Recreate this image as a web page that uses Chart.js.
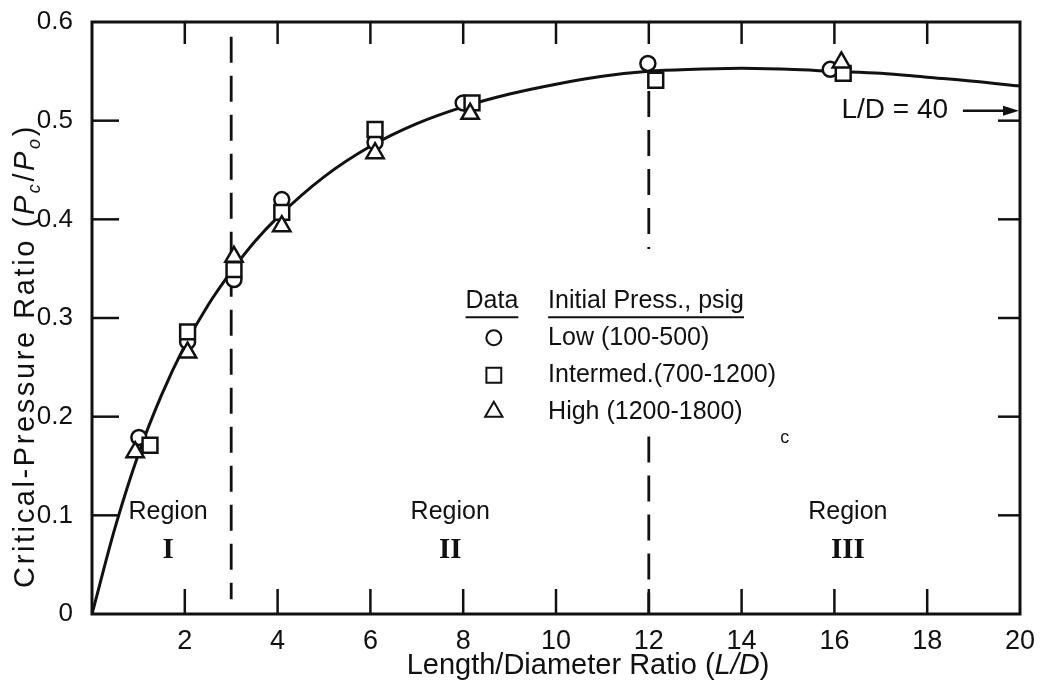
<!DOCTYPE html>
<html>
<head>
<meta charset="utf-8">
<script src="https://cdn.jsdelivr.net/npm/chart.js@4.4.1/dist/chart.umd.min.js"></script>
<style>
html,body{margin:0;padding:0;background:#fff;}
canvas{display:block;}
</style>
</head>
<body>
<canvas id="c" width="1045" height="684"></canvas>
<script>
// ---------- data ----------
const curveX = [0, 0.5, 1, 1.5, 2, 2.5, 3, 3.5, 4, 5, 6, 7, 8, 9, 10, 11, 12, 13, 14, 15, 16, 17, 18, 19, 20];
const curveY = [0, 0.088, 0.162, 0.222, 0.272, 0.313, 0.347, 0.377, 0.402, 0.443, 0.474, 0.497, 0.514, 0.527, 0.537, 0.545, 0.550, 0.552, 0.553, 0.552, 0.550, 0.548, 0.544, 0.540, 0.535];

const lowX  = [1.01, 2.06, 3.06, 4.09, 6.10, 8.00, 11.98, 15.91];
const lowY  = [0.179, 0.276, 0.339, 0.420, 0.478, 0.518, 0.558, 0.552];
const intX  = [1.25, 2.06, 3.06, 4.09, 6.10, 8.19, 12.15, 16.19];
const intY  = [0.171, 0.286, 0.349, 0.407, 0.491, 0.518, 0.541, 0.548];
const highX = [0.93, 2.06, 3.06, 4.09, 6.10, 8.15, 16.15];
const highY = [0.164, 0.265, 0.362, 0.393, 0.467, 0.507, 0.559];

const div3X = [3, 3];
const div3Y = [0.585, 0.015];
const div12X = [12, 12, 12, 12, 12];
const div12Y = [0.53, 0.37, null, 0.18, 0];

const xTickValues = [0, 2, 4, 6, 8, 10, 12, 14, 16, 18, 20];
const xTickLabels = ['', '2', '4', '6', '8', '10', '12', '14', '16', '18', '20'];
const yTickValues = [0, 0.1, 0.2, 0.3, 0.4, 0.5, 0.6];
const yTickLabels = ['0', '0.1', '0.2', '0.3', '0.4', '0.5', '0.6'];

const seriesNames = ['Low (100-500)', 'Intermed.(700-1200)', 'High (1200-1800)'];
const seriesStyles = ['circle', 'rect', 'triangle'];
const regionNames = ['Region', 'Region', 'Region'];
const regionNumerals = ['I', 'II', 'III'];
const ldNote = 'L/D = 40';

// ---------- helpers ----------
const FONT = "'Liberation Sans', Arial, Helvetica, sans-serif";
const SERIF = "'Liberation Serif', 'DejaVu Serif', serif";
const INK = '#111';
const pts = (xs, ys) => xs.map((x, i) => ({x: x, y: ys[i]}));

function markerOpts(style) {
  if (style === 'circle') return {pointStyle: 'circle', radius: 7.5, borderWidth: 2.5, rotation: 0};
  if (style === 'rect') return {pointStyle: 'rect', radius: 10.5, borderWidth: 2.5, rotation: 0};
  return {pointStyle: 'triangle', radius: 10, borderWidth: 2.5, rotation: 0};
}

function drawRuns(ctx, runs, x0, y0, align) {
  let w = 0;
  runs.forEach(r => { ctx.font = r.font; w += ctx.measureText(r.t).width + (r.ls || 0) * r.t.length; });
  let x = align === 'center' ? x0 - w / 2 : x0;
  runs.forEach(r => {
    ctx.font = r.font;
    if (r.ls) {
      for (const ch of r.t) { ctx.fillText(ch, x, y0 + (r.dy || 0)); x += ctx.measureText(ch).width + r.ls; }
    } else {
      ctx.fillText(r.t, x, y0 + (r.dy || 0));
      x += ctx.measureText(r.t).width;
    }
  });
  return w;
}

const notes = {
  id: 'notes',
  afterDatasetsDraw(chart) {
    const {ctx, chartArea: a, scales: {x, y}} = chart;
    const X = v => x.getPixelForValue(v);
    const Y = v => y.getPixelForValue(v);
    ctx.save();
    ctx.strokeStyle = INK;
    ctx.fillStyle = INK;
    ctx.lineCap = 'butt';

    // frame
    ctx.lineWidth = 3;
    ctx.strokeRect(a.left, a.top, a.right - a.left, a.bottom - a.top);

    // inward ticks on all four sides
    ctx.lineWidth = 2.5;
    const seg = (x1, y1, x2, y2) => { ctx.beginPath(); ctx.moveTo(x1, y1); ctx.lineTo(x2, y2); ctx.stroke(); };
    x.ticks.forEach(t => {
      if (t.value <= x.min || t.value >= x.max) return;
      const p = X(t.value);
      seg(p, a.bottom, p, a.bottom - 25);
      seg(p, a.top, p, a.top + 22);
    });
    y.ticks.forEach(t => {
      if (t.value <= y.min || t.value >= y.max) return;
      const p = Y(t.value);
      seg(a.left, p, a.left + 27, p);
      seg(a.right, p, a.right - 22, p);
    });

    // axis titles
    ctx.textBaseline = 'alphabetic';
    const fs = 29;
    drawRuns(ctx, [
      {t: 'Length/Diameter Ratio (', font: fs + 'px ' + FONT},
      {t: 'L/D', font: 'italic ' + fs + 'px ' + FONT},
      {t: ')', font: fs + 'px ' + FONT}
    ], (a.left + a.right) / 2 + 32, 674, 'center');

    ctx.save();
    ctx.translate(34, 356);
    ctx.rotate(-Math.PI / 2);
    const ys = 29, ls = 2.6;
    drawRuns(ctx, [
      {t: 'Critical-Pressure Ratio (', font: ys + 'px ' + FONT, ls: ls},
      {t: 'P', font: 'italic ' + ys + 'px ' + FONT, ls: ls},
      {t: 'c', font: 'italic ' + Math.round(ys * 0.62) + 'px ' + FONT, dy: 6, ls: ls},
      {t: '/', font: ys + 'px ' + FONT, ls: ls},
      {t: 'P', font: 'italic ' + ys + 'px ' + FONT, ls: ls},
      {t: 'o', font: 'italic ' + Math.round(ys * 0.62) + 'px ' + FONT, dy: 6, ls: ls},
      {t: ')', font: ys + 'px ' + FONT, ls: ls}
    ], 0, 0, 'center');
    ctx.restore();

    // region labels
    const regionX = [1.64, 7.72, 16.29];
    ctx.textAlign = 'center';
    ctx.textBaseline = 'middle';
    regionX.forEach((rx, i) => {
      ctx.font = '25px ' + FONT;
      ctx.fillText(regionNames[i], X(rx), Y(0.103));
      ctx.font = 'bold 29px ' + SERIF;
      ctx.fillText(regionNumerals[i], X(rx), Y(0.064));
    });

    // legend
    ctx.textAlign = 'left';
    ctx.font = '25px ' + FONT;
    const hx = X(8.05), tx = X(9.83), hy = Y(0.317);
    const w1 = ctx.measureText('Data').width;
    const head2 = 'Initial Press., psig';
    const w2 = ctx.measureText(head2).width;
    ctx.fillText('Data', hx, hy);
    ctx.fillText(head2, tx, hy);
    ctx.lineWidth = 2;
    seg(hx, hy + 16, hx + w1, hy + 16);
    seg(tx, hy + 16, tx + w2, hy + 16);
    const rowY = [0.280, 0.242, 0.205];
    seriesNames.forEach((n, i) => {
      ctx.fillStyle = '#fff';
      ctx.strokeStyle = INK;
      Chart.helpers.drawPoint(ctx, markerOpts(seriesStyles[i]), X(8.66), Y(rowY[i]));
      ctx.fillStyle = INK;
      ctx.font = '25px ' + FONT;
      ctx.fillText(n, tx, Y(rowY[i]));
    });

    // L/D = 40 note with arrow
    ctx.font = '28px ' + FONT;
    ctx.textAlign = 'center';
    ctx.fillText(ldNote, X(17.3), Y(0.511));
    const ay = Y(0.51), ax1 = X(18.77), ax2 = a.right - 1;
    ctx.lineWidth = 2.5;
    seg(ax1, ay, ax2 - 12, ay);
    ctx.beginPath();
    ctx.moveTo(ax2, ay);
    ctx.lineTo(ax2 - 16, ay - 5);
    ctx.lineTo(ax2 - 16, ay + 5);
    ctx.closePath();
    ctx.fill();

    // stray mark in the figure
    ctx.font = '18px ' + FONT;
    ctx.fillText('c', X(14.93), Y(0.178));
    ctx.restore();
  }
};

const scatterDs = (label, xs, ys, style, order) => {
  const m = markerOpts(style);
  return {
    type: 'scatter', label: label, data: pts(xs, ys), order: order,
    pointStyle: m.pointStyle, pointRadius: m.radius, pointBorderWidth: m.borderWidth,
    pointBackgroundColor: '#fff', pointBorderColor: INK, showLine: false
  };
};
const lineDs = (label, xs, ys, extra) => Object.assign({
  type: 'line', label: label, data: pts(xs, ys), order: 10,
  borderColor: INK, borderWidth: 3, pointRadius: 0, fill: false, spanGaps: false
}, extra);

const zeroPad = s => { s.paddingTop = 0; s.paddingBottom = 0; s.paddingLeft = 0; s.paddingRight = 0; };

new Chart(document.getElementById('c'), {
  type: 'scatter',
  data: {
    datasets: [
      scatterDs(seriesNames[0], lowX, lowY, 'circle', 2),
      scatterDs(seriesNames[1], intX, intY, 'rect', 1),
      scatterDs(seriesNames[2], highX, highY, 'triangle', 0),
      lineDs('curve', curveX, curveY, {cubicInterpolationMode: 'monotone'}),
      lineDs('div3', div3X, div3Y, {borderDash: [26, 13], borderWidth: 2.8}),
      lineDs('div12', div12X, div12Y, {borderDash: [26, 13], borderWidth: 2.8})
    ]
  },
  options: {
    responsive: false,
    animation: false,
    events: [],
    layout: {padding: {top: 22, right: 25, left: 0, bottom: 0}},
    plugins: {legend: {display: false}, tooltip: {enabled: false}},
    scales: {
      x: {
        type: 'linear', min: 0, max: 20,
        afterBuildTicks: s => { s.ticks = xTickValues.map(v => ({value: v})); },
        afterFit: s => { s.height = 70; zeroPad(s); },
        grid: {display: false, drawTicks: false},
        border: {display: false},
        ticks: {
          padding: 11, color: INK, font: {family: FONT, size: 27},
          autoSkip: false, maxRotation: 0,
          callback: v => xTickLabels[xTickValues.indexOf(v)]
        }
      },
      y: {
        type: 'linear', min: 0, max: 0.6,
        afterBuildTicks: s => { s.ticks = yTickValues.map(v => ({value: v})); },
        afterFit: s => { s.width = 92; zeroPad(s); },
        grid: {display: false, drawTicks: false},
        border: {display: false},
        ticks: {
          padding: 19, color: INK, font: {family: FONT, size: 26},
          autoSkip: false,
          callback: v => yTickLabels[yTickValues.indexOf(v)]
        }
      }
    }
  },
  plugins: [notes]
});
</script>
</body>
</html>
